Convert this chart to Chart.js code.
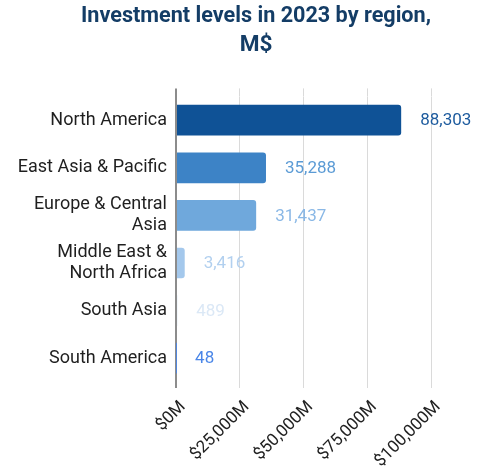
<!DOCTYPE html>
<html>
<head>
<meta charset="utf-8">
<script src="https://cdn.jsdelivr.net/npm/chart.js@4.4.1/dist/chart.umd.min.js"></script>
<style>
  html, body { margin: 0; padding: 0; background: #ffffff; }
  #wrap { width: 486px; height: 473px; }
</style>
</head>
<body>
<div id="wrap"><canvas id="regionChart" width="486" height="473"></canvas></div>
<script>
// investment per region, 2023 (M$)
const regions = [
    'North America',
    'East Asia & Pacific',
    ['Europe & Central', 'Asia'],
    ['Middle East &', 'North Africa'],
    'South Asia',
    'South America'
];
const investment = [88303, 35288, 31437, 3416, 489, 48];
const axisMax = 100000;
const axisStep = 25000;

const barColors = ['#0f5296', '#3d83c6', '#6fa8dc', '#a4c8ec', '#cfe2f3', '#4a86e8'];
const labelColors = ['#1d5b9e', '#5b9bd5', '#8ab8e6', '#b2d0ef', '#dbe8f6', '#4a86e8'];

const gridGrey = '#dadada';
const axisGrey = '#8c8c8c';

// value text to the right of each bar
const barValueLabels = {
    id: 'barValueLabels',
    afterDatasetsDraw(chart) {
        const ctx = chart.ctx;
        const meta = chart.getDatasetMeta(0);
        ctx.save();
        ctx.font = '17px Roboto';
        ctx.textAlign = 'left';
        ctx.textBaseline = 'middle';
        meta.data.forEach(function(bar, i) {
            ctx.fillStyle = labelColors[i];
            ctx.fillText(investment[i].toLocaleString('en-US'), bar.x + 19, bar.y + 1);
        });
        ctx.restore();
    }
};

// the left layout padding is only there to centre the title;
// let the category labels use that space too (labels are clipped to the scale box)
const widenLabelArea = {
    id: 'widenLabelArea',
    afterLayout(chart) {
        chart.scales.y.left = 0;
    }
};

function zeroLineColor(c) {
    return c.tick && c.tick.value === 0 ? axisGrey : gridGrey;
}
function zeroLineWidth(c) {
    return c.tick && c.tick.value === 0 ? 2 : 1;
}

const chart = new Chart('regionChart', {
    type: 'bar',
    data: {
        labels: regions,
        datasets: [{
            data: investment,
            backgroundColor: barColors,
            borderRadius: 3,
            borderSkipped: 'start',
            categoryPercentage: 1,
            barPercentage: 0.645
        }]
    },
    options: {
        indexAxis: 'y',
        responsive: false,
        animation: false,
        layout: {
            padding: { left: 81, right: 55, top: 0, bottom: 0 }
        },
        plugins: {
            legend: { display: false },
            tooltip: { enabled: false },
            title: {
                display: true,
                text: ['Investment levels in 2023 by region,', 'M$'],
                color: '#143d66',
                font: { family: 'Roboto', size: 22.6, weight: 'bold', lineHeight: 1.27 },
                padding: { top: 2, bottom: 29 }
            }
        },
        scales: {
            x: {
                type: 'linear',
                position: 'bottom',
                min: 0,
                max: axisMax,
                grid: {
                    color: zeroLineColor,
                    lineWidth: zeroLineWidth,
                    drawTicks: true,
                    tickLength: 6
                },
                border: { display: false },
                ticks: {
                    stepSize: axisStep,
                    minRotation: 45,
                    maxRotation: 45,
                    padding: 9,
                    labelOffset: 7,
                    color: '#222222',
                    font: { family: 'Roboto', size: 17 },
                    callback: function(v) {
                        return '$' + v.toLocaleString('en-US') + 'M';
                    }
                },
                afterFit: function(scale) {
                    scale.height = 91;
                }
            },
            // top stubs so the grid runs a little above the first bar
            xTop: {
                type: 'linear',
                position: 'top',
                min: 0,
                max: axisMax,
                grid: {
                    color: zeroLineColor,
                    lineWidth: zeroLineWidth,
                    drawOnChartArea: false,
                    drawTicks: true,
                    tickLength: 8
                },
                border: { display: false },
                ticks: { display: false, stepSize: axisStep }
            },
            y: {
                grid: { drawOnChartArea: false, drawTicks: false },
                border: { display: true, color: axisGrey, width: 2 },
                ticks: {
                    padding: 9,
                    color: '#1f1f1f',
                    font: { family: 'Roboto', size: 18, lineHeight: 1.17 }
                },
                afterFit: function(scale) {
                    scale.width = 95;
                }
            }
        }
    },
    plugins: [barValueLabels, widenLabelArea]
});
</script>
</body>
</html>
